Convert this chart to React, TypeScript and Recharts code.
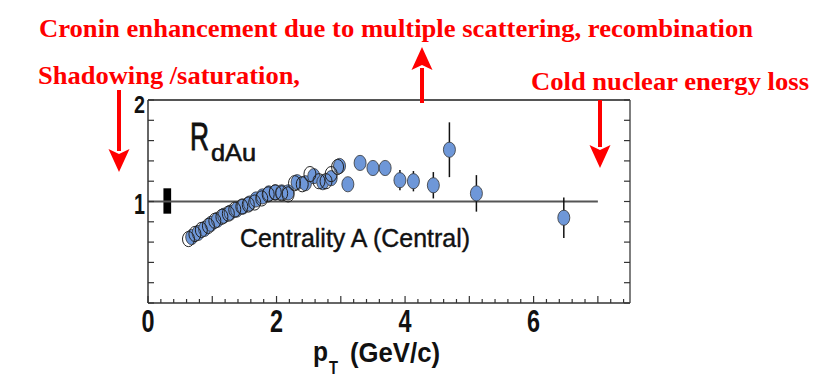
import React from 'react';
import {
  ScatterChart,
  Scatter,
  XAxis,
  YAxis,
  ErrorBar,
  ReferenceLine,
  ReferenceArea,
} from 'recharts';

// open circles (low pT set)
const openPt = [0.63, 0.73, 0.83, 0.94, 1.04, 1.15, 1.25, 1.35, 1.46, 1.56, 1.66, 1.77, 1.87, 1.98, 2.08, 2.18, 2.28, 2.4, 2.52, 2.66, 2.77, 2.85, 2.95];
const openR = [0.63, 0.68, 0.72, 0.76, 0.81, 0.85, 0.88, 0.92, 0.95, 0.97, 0.99, 1.03, 1.07, 1.09, 1.08, 1.07, 1.18, 1.17, 1.27, 1.2, 1.2, 1.27, 1.34];

// filled blue points with stat errors
const bluePt = [0.68, 0.78, 0.88, 0.98, 1.08, 1.18, 1.28, 1.38, 1.48, 1.58, 1.68, 1.78, 1.88, 1.98, 2.08, 2.18, 2.32, 2.45, 2.58, 2.72, 2.85, 2.98, 3.11, 3.3, 3.5, 3.69, 3.92, 4.13, 4.44, 4.69, 5.11, 6.47];
const blueR = [0.65, 0.69, 0.73, 0.78, 0.82, 0.86, 0.89, 0.92, 0.95, 0.98, 1.02, 1.05, 1.08, 1.09, 1.09, 1.09, 1.19, 1.18, 1.25, 1.19, 1.23, 1.35, 1.17, 1.38, 1.33, 1.33, 1.21, 1.2, 1.16, 1.51, 1.08, 0.84];
const blueErr = [0.01, 0.01, 0.01, 0.01, 0.01, 0.01, 0.01, 0.01, 0.01, 0.01, 0.01, 0.02, 0.02, 0.02, 0.02, 0.02, 0.03, 0.03, 0.05, 0.04, 0.05, 0.07, 0.06, 0.06, 0.07, 0.07, 0.1, 0.1, 0.13, 0.27, 0.18, 0.2];

const xTickLabels = [0, 2, 4, 6];
const yTickLabels = [1, 2];
// normalisation uncertainty box at pT ~ 0.3
const normBox = { x1: 0.24, x2: 0.36, y1: 0.88, y2: 1.13 };

const openData = openPt.map((x, i) => ({ x, y: openR[i] }));
const blueData = bluePt.map((x, i) => ({ x, y: blueR[i], err: blueErr[i] }));

const xTicks = Array.from({ length: 38 }, (_, i) => Math.round(i * 2) / 10);
const yTicks = Array.from({ length: 11 }, (_, i) => Math.round(i * 2) / 10);

const W = 830;
const H = 383;
const axisFont = '"Liberation Sans Narrow", "Liberation Sans", Arial, sans-serif';
const redFont = '"Liberation Serif", "Times New Roman", serif';

const XTick = (props: any) => {
  const { x, y, payload } = props;
  const v = payload.value;
  const major = Math.abs(v - Math.round(v)) < 1e-6;
  const showLabel = xTickLabels.some((t) => Math.abs(t - v) < 1e-6);
  return (
    <g>
      <line x1={x} y1={y} x2={x} y2={y - (major ? 7 : 4)} stroke="#333" strokeWidth={1.2} />
      {showLabel && (
        <text x={x} y={y + 29} textAnchor="middle" fontFamily={axisFont} fontWeight="bold" fontSize={31}
          textLength={13} lengthAdjust="spacingAndGlyphs" fill="#111">
          {v}
        </text>
      )}
    </g>
  );
};

const YTickLeft = (props: any) => {
  const { x, y, payload } = props;
  const v = payload.value;
  const showLabel = yTickLabels.some((t) => Math.abs(t - v) < 1e-6);
  const top = v === 2;
  return (
    <g>
      <line x1={x} y1={y} x2={x + 6} y2={y} stroke="#333" strokeWidth={1.2} />
      {showLabel && (
        <text x={x - 3} y={y + (top ? 13 : 12)} textAnchor="end" fontFamily={axisFont} fontWeight="bold"
          fontSize={top ? 23 : 30} textLength={top ? 11 : 11} lengthAdjust="spacingAndGlyphs" fill="#111">
          {v}
        </text>
      )}
    </g>
  );
};

const YTickRight = (props: any) => {
  const { x, y } = props;
  return <line x1={x} y1={y} x2={x - 6} y2={y} stroke="#333" strokeWidth={1.2} />;
};

const BlueDot = (props: any) => (
  <ellipse cx={props.cx} cy={props.cy} rx={6} ry={7.6} fill="#6e97d8" stroke="#333" strokeWidth={0.8} />
);

const OpenDot = (props: any) => (
  <ellipse cx={props.cx} cy={props.cy} rx={6} ry={7.6} fill="none" stroke="#222" strokeWidth={1} />
);

function Arrow({ x, y1, y2 }: { x: number; y1: number; y2: number }) {
  // y1 = tail, y2 = tip
  const dir = y2 > y1 ? 1 : -1;
  const headLen = 21;
  const base = y2 - dir * headLen;
  return (
    <g fill="#ff0000" stroke="#ff0000">
      <line x1={x} y1={y1} x2={x} y2={base} strokeWidth={4} />
      <path d={`M ${x - 10.5} ${base - dir * 2} L ${x} ${y2} L ${x + 10.5} ${base - dir * 2} L ${x} ${base + dir * 3} Z`} stroke="none" />
    </g>
  );
}

export default function App() {
  return (
    <div style={{ position: 'absolute', left: 0, top: 0, width: W, height: H, background: '#fff' }}>
      <ScatterChart width={W} height={H} margin={{ top: 100, right: 170, bottom: 50, left: 118 }}>
        <XAxis
          type="number"
          dataKey="x"
          domain={[0, 7.5]}
          allowDataOverflow
          ticks={xTicks}
          interval={0}
          height={30}
          tickSize={0}
          tickMargin={0}
          tick={<XTick />}
          tickLine={false}
          axisLine={{ stroke: '#333', strokeWidth: 1.5 }}
        />
        <YAxis
          yAxisId="left"
          type="number"
          dataKey="y"
          domain={[0, 2]}
          allowDataOverflow
          ticks={yTicks}
          interval={0}
          width={30}
          tickSize={0}
          tickMargin={0}
          tick={<YTickLeft />}
          tickLine={false}
          axisLine={{ stroke: '#333', strokeWidth: 1.5 }}
        />
        <YAxis
          yAxisId="right"
          orientation="right"
          type="number"
          domain={[0, 2]}
          allowDataOverflow
          ticks={yTicks}
          interval={0}
          width={30}
          tickSize={0}
          tickMargin={0}
          tick={<YTickRight />}
          tickLine={false}
          axisLine={{ stroke: '#555', strokeWidth: 1.5 }}
        />
        <ReferenceLine yAxisId="left" y={2} stroke="#555" strokeWidth={2} />
        <ReferenceLine
          yAxisId="left"
          segment={[{ x: 0, y: 1 }, { x: 7, y: 1 }]}
          stroke="#555"
          strokeWidth={2}
        />
        <ReferenceArea
          yAxisId="left"
          x1={normBox.x1}
          x2={normBox.x2}
          y1={normBox.y1}
          y2={normBox.y2}
          fill="#000"
          fillOpacity={1}
          stroke="none"
        />
        <Scatter yAxisId="left" data={blueData} shape={<BlueDot />} isAnimationActive={false}>
          <ErrorBar dataKey="err" direction="y" width={0} stroke="#111" strokeWidth={1.5} />
        </Scatter>
        <Scatter yAxisId="left" data={openData} shape={<OpenDot />} isAnimationActive={false} />
      </ScatterChart>

      <svg width={W} height={H} style={{ position: 'absolute', left: 0, top: 0, pointerEvents: 'none' }}>
        {/* annotations */}
        <g fontFamily={redFont} fontWeight="bold" fontSize={26} fill="#ff0000">
          <text x={39} y={37} textLength={714} lengthAdjust="spacingAndGlyphs">
            Cronin enhancement due to multiple scattering, recombination
          </text>
          <text x={38} y={84} textLength={262} lengthAdjust="spacingAndGlyphs">
            Shadowing /saturation,
          </text>
          <text x={531} y={90} textLength={278} lengthAdjust="spacingAndGlyphs">
            Cold nuclear energy loss
          </text>
        </g>
        <Arrow x={119} y1={90} y2={172} />
        <Arrow x={422} y1={103} y2={47} />
        <Arrow x={600} y1={100} y2={168} />

        <g fontFamily={axisFont} fill="#111" stroke="#111" strokeWidth={0.4}>
          <text x={190} y={150}>
            <tspan fontSize={38} textLength={19} lengthAdjust="spacingAndGlyphs" strokeWidth={0.9}>R</tspan>
            <tspan x={211} y={161} fontSize={24} textLength={45} lengthAdjust="spacingAndGlyphs" strokeWidth={0.6}>dAu</tspan>
          </text>
          <text x={240} y={247} fontSize={25} textLength={230} lengthAdjust="spacingAndGlyphs">
            Centrality A (Central)
          </text>
          <g fontWeight="bold" strokeWidth={0}>
            <text x={313} y={361} fontSize={28}>
              <tspan textLength={15} lengthAdjust="spacingAndGlyphs">p</tspan>
              <tspan x={329} y={374} fontSize={18} textLength={9} lengthAdjust="spacingAndGlyphs">T</tspan>
              <tspan x={350} y={362} textLength={90} lengthAdjust="spacingAndGlyphs">(GeV/c)</tspan>
            </text>
          </g>
        </g>
      </svg>
    </div>
  );
}
